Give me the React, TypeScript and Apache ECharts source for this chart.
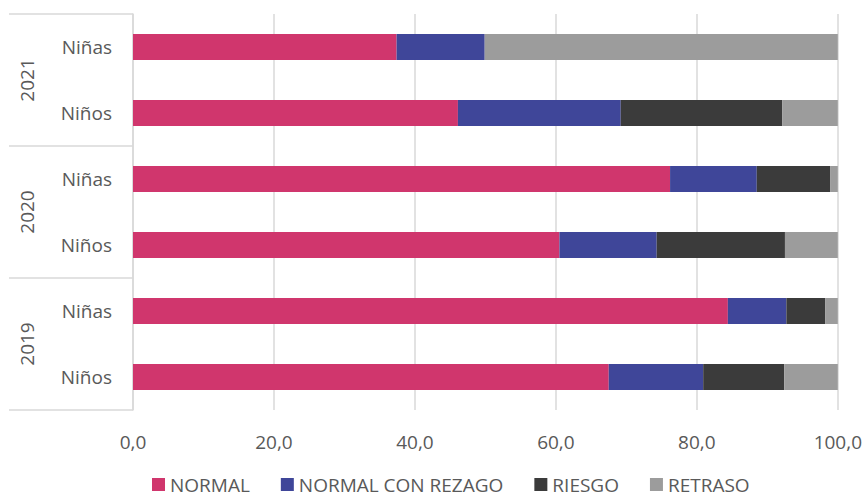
import React, { useEffect, useRef } from "react";
import * as echarts from "echarts";

const rowKeys = ["2019|Niños", "2019|Niñas", "2020|Niños", "2020|Niñas", "2021|Niños", "2021|Niñas"];
const years = ["2019", "2020", "2021"];
const seriesNames = ["NORMAL", "NORMAL CON REZAGO", "RIESGO", "RETRASO"];
const normal = [67.5, 84.4, 60.5, 76.2, 46.1, 37.4];
const normalConRezago = [13.4, 8.3, 13.8, 12.3, 23.1, 12.5];
const riesgo = [11.5, 5.5, 18.2, 10.4, 22.9, 0];
const retraso = [7.6, 1.8, 7.5, 1.1, 7.9, 50.1];
const xTicks = [0, 20, 40, 60, 80, 100];

const colors = ["#D0366D", "#3F4699", "#3B3B3B", "#9C9C9C"];
const FONT = "'Open Sans', sans-serif";
const TEXT = "#595959";
const LINE = "#D9D9D9";

export default function App() {
  const ref = useRef<HTMLDivElement>(null);
  useEffect(() => {
    if (!ref.current) return;
    const chart = echarts.init(ref.current, null, { renderer: "svg" });
    const values = [normal, normalConRezago, riesgo, retraso];
    chart.setOption({
      animation: false,
      textStyle: { fontFamily: FONT },
      grid: { left: 133, right: 25, top: 14, bottom: 86, containLabel: false },
      xAxis: {
        type: "value",
        min: xTicks[0],
        max: xTicks[xTicks.length - 1],
        interval: 20,
        axisLine: { show: false },
        axisTick: { show: false },
        splitLine: { show: true, lineStyle: { color: LINE, width: 1.5 } },
        axisLabel: {
          color: TEXT,
          fontSize: 19,
          fontFamily: FONT,
          margin: 22,
          formatter: (v: number) => v.toFixed(1).replace(".", ","),
        },
      },
      yAxis: [
        {
          type: "category",
          data: rowKeys,
          position: "left",
          axisLine: { show: true, lineStyle: { color: LINE, width: 1.5 } },
          axisTick: { show: false },
          splitLine: { show: false },
          axisLabel: {
            color: TEXT,
            fontSize: 19,
            fontFamily: FONT,
            margin: 21,
            formatter: (v: string) => v.split("|")[1],
          },
        },
        {
          type: "category",
          data: years,
          position: "left",
          offset: 0,
          axisLine: { show: false },
          axisTick: { show: true, length: 124, lineStyle: { color: LINE, width: 1.5 } },
          splitLine: { show: false },
          axisLabel: {
            color: TEXT,
            fontSize: 19,
            fontFamily: FONT,
            rotate: 90,
            margin: 97,
          },
        },
      ],
      legend: {
        left: 147,
        top: 470,
        itemWidth: 13,
        itemHeight: 13,
        itemGap: 31,
        icon: "rect",
        textStyle: { color: TEXT, fontSize: 19, fontFamily: FONT },
        data: seriesNames,
      },
      series: seriesNames.map((name, i) => ({
        name,
        type: "bar",
        stack: "total",
        yAxisIndex: 0,
        barWidth: 26,
        data: values[i],
        itemStyle: { color: colors[i] },
      })),
    });
    return () => chart.dispose();
  }, []);
  return <div ref={ref} style={{ width: 865, height: 496, position: "absolute", left: 0, top: 0 }} />;
}
